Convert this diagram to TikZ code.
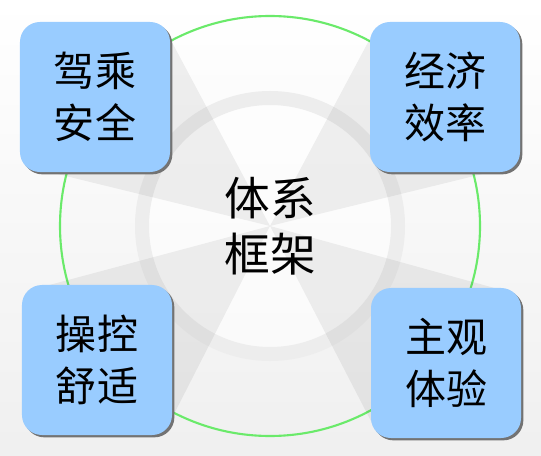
\documentclass[tikz,border=0pt]{standalone}
\usepackage{fontspec}
\newfontfamily\cjk{Noto Sans CJK SC}
\usetikzlibrary{backgrounds,shadows}
\definecolor{boxblue}{HTML}{99CCFF}
\definecolor{ringgreen}{HTML}{6AEA6A}
\begin{document}
\begin{tikzpicture}[
  x=0.03cm, y=-0.03cm,
  every node/.style={font=\cjk},
  aspect/.style={fill=boxblue, rounded corners=0.6cm, minimum size=4.5cm,
    align=center, font=\cjk\fontsize{35}{44}\selectfont,
    drop shadow={shadow xshift=2pt, shadow yshift=-2pt, fill=black!55, opacity=1}},
  hub/.style={align=center, font=\cjk\fontsize{39}{48}\selectfont},
  wedge/.style={fill=black, opacity=0.06}
]
\useasboundingbox (0,0) rectangle (541,455);
\node[hub] (frame) at (270,226) {体系\\框架};
\node[aspect] (safe) at (95,97) {驾乘\\安全};
\node[aspect] (econ) at (445,97) {经济\\效率};
\node[aspect] (comf) at (97,360) {操控\\舒适};
\node[aspect] (feel) at (446,363) {主观\\体验};
\begin{pgfonlayer}{background}
  \shade[top color=white, bottom color=black!6] (0,0) rectangle (541,455);
  \draw[ringgreen, line width=1.8pt] (frame.center) circle[radius=210];
  \fill[white, opacity=0.6] (frame.center) circle[radius=122];
  \draw[black!7, line width=0.42cm] (frame.center) circle[radius=128];
  % wedges from each box to the hub
  \fill[wedge] ([shift={(-6,6)}]safe.north east) -- (frame.center) -- ([shift={(6,-6)}]safe.south west) -- cycle;
  \fill[wedge] ([shift={(6,6)}]econ.north west) -- (frame.center) -- ([shift={(-6,-6)}]econ.south east) -- cycle;
  \fill[wedge] ([shift={(6,6)}]comf.north west) -- (frame.center) -- ([shift={(-6,-6)}]comf.south east) -- cycle;
  \fill[wedge] ([shift={(-6,6)}]feel.north east) -- (frame.center) -- ([shift={(6,-6)}]feel.south west) -- cycle;
\end{pgfonlayer}
\end{tikzpicture}
\end{document}
